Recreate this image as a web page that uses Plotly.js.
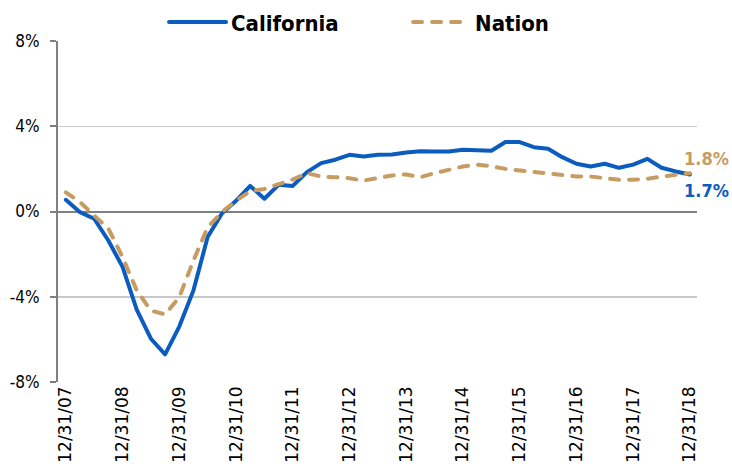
<!DOCTYPE html>
<html>
<head>
<meta charset="utf-8">
<script src="https://cdn.plot.ly/plotly-3.0.1.min.js"></script>
<style>html,body{margin:0;padding:0;background:#fff}#chart{width:732px;height:474px}
#chart path.js-line{stroke-linecap:round;stroke-linejoin:round}</style>
</head>
<body>
<div id="chart"></div>
<script>
var quarters = [
  "12/31/07","3/31/08","6/30/08","9/30/08","12/31/08","3/31/09","6/30/09","9/30/09","12/31/09",
  "3/31/10","6/30/10","9/30/10","12/31/10","3/31/11","6/30/11","9/30/11","12/31/11",
  "3/31/12","6/30/12","9/30/12","12/31/12","3/31/13","6/30/13","9/30/13","12/31/13",
  "3/31/14","6/30/14","9/30/14","12/31/14","3/31/15","6/30/15","9/30/15","12/31/15",
  "3/31/16","6/30/16","9/30/16","12/31/16","3/31/17","6/30/17","9/30/17","12/31/17",
  "3/31/18","6/30/18","9/30/18","12/31/18"
];
var tickLabels = ["12/31/07","12/31/08","12/31/09","12/31/10","12/31/11","12/31/12","12/31/13","12/31/14","12/31/15","12/31/16","12/31/17","12/31/18"];
var california = [
  0.55,-0.03,-0.34,-1.36,-2.6,-4.6,-5.97,-6.7,-5.4,
  -3.7,-1.2,-0.1,0.5,1.2,0.6,1.25,1.2,
  1.85,2.27,2.43,2.66,2.58,2.66,2.67,2.77,
  2.83,2.82,2.82,2.9,2.88,2.85,3.26,3.26,
  3.02,2.94,2.55,2.24,2.11,2.24,2.05,2.2,
  2.47,2.05,1.88,1.74
];
var nation = [
  0.9,0.44,-0.19,-0.8,-2.14,-3.7,-4.65,-4.83,-4.02,
  -2.3,-0.74,-0.03,0.5,0.95,1.06,1.3,1.5,
  1.8,1.64,1.61,1.56,1.45,1.58,1.69,1.74,
  1.61,1.8,1.97,2.11,2.2,2.13,2.0,1.93,
  1.85,1.77,1.74,1.64,1.64,1.58,1.49,1.49,
  1.53,1.64,1.74,1.8
];
var yTicks = [-8,-4,0,4,8];
var yTickText = ["-8%","-4%","0%","4%","8%"];
var endLabels = {california:"1.7%", nation:"1.8%"};

var cBlue = "#0a5cbf", cTan = "#c69c63";
var condensed = "'DejaVu Sans Condensed', 'Liberation Sans Narrow', sans-serif";

var traces = [
  {x: quarters, y: california, name: "California", type: "scatter", mode: "lines",
   line: {color: cBlue, width: 4}},
  {x: quarters, y: nation, name: "Nation", type: "scatter", mode: "lines",
   line: {color: cTan, width: 4, dash: "9px,10px"}}
];

var last = quarters.length - 1;
var layout = {
  width: 732, height: 474,
  margin: {l: 58, r: 35, t: 41, b: 92, autoexpand: false},
  paper_bgcolor: "#fff", plot_bgcolor: "#fff",
  showlegend: true,
  legend: {orientation: "h", x: 0.166, xanchor: "left", yref: "container", y: 0.953, yanchor: "middle",
           font: {family: condensed, size: 22, color: "#000", weight: "bold"},
           itemwidth: 57, bgcolor: "rgba(0,0,0,0)", entrywidth: 172},
  xaxis: {type: "category", categoryorder: "array", categoryarray: quarters,
          range: [-0.55, last + 0.5], tickmode: "array", tickvals: tickLabels, ticktext: tickLabels,
          tickangle: -90, showgrid: false, zeroline: false, showline: false, ticks: "",
          tickfont: {family: "'DejaVu Sans', sans-serif", size: 17, color: "#000"}},
  yaxis: {range: [-8, 8], tickvals: yTicks, ticktext: yTickText,
          showgrid: true, gridcolor: "#c8c8c8", gridwidth: 1.5,
          zeroline: true, zerolinecolor: "#808080", zerolinewidth: 2,
          showline: true, linecolor: "#808080", linewidth: 2,
          ticks: "outside", ticklen: 6, tickcolor: "#808080", tickwidth: 2,
          ticklabelstandoff: 7,
          tickfont: {family: condensed, size: 17, color: "#000"}},
  annotations: [
    {x: quarters[last], y: nation[last], xref: "x", yref: "y", text: endLabels.nation,
     showarrow: false, xanchor: "left", yanchor: "middle", xshift: -8, yshift: 15,
     font: {family: condensed, size: 18, color: cTan, weight: "bold"}},
    {x: quarters[last], y: california[last], xref: "x", yref: "y", text: endLabels.california,
     showarrow: false, xanchor: "left", yanchor: "middle", xshift: -8, yshift: -16,
     font: {family: condensed, size: 18, color: cBlue, weight: "bold"}}
  ]
};
Plotly.newPlot("chart", traces, layout, {displayModeBar: false, staticPlot: true});
</script>
</body>
</html>
